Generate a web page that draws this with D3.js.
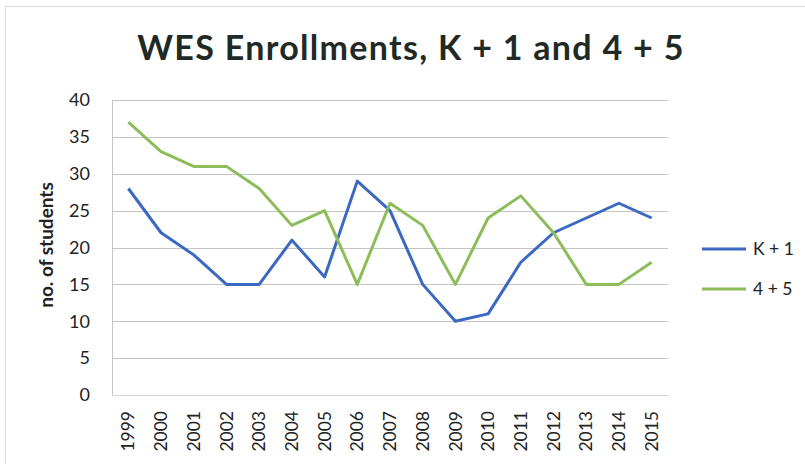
<!DOCTYPE html>
<html>
<head>
<meta charset="utf-8">
<script src="https://cdn.jsdelivr.net/npm/d3@7"></script>
<style>
  body { margin: 0; background: #fff; }
  svg { display: block; font-family: Lato, "Open Sans", sans-serif; }
</style>
</head>
<body>
<div id="chart"></div>
<script>
// data
var years = ["1999", "2000", "2001", "2002", "2003", "2004", "2005", "2006", "2007",
             "2008", "2009", "2010", "2011", "2012", "2013", "2014", "2015"];
var kOne = [28, 22, 19, 15, 15, 21, 16, 29, 25, 15, 10, 11, 18, 22, 24, 26, 24];
var fourFive = [37, 33, 31, 31, 28, 23, 25, 15, 26, 23, 15, 24, 27, 22, 15, 15, 18];
var yTicks = [0, 5, 10, 15, 20, 25, 30, 35, 40];
var seriesNames = ["K + 1", "4 + 5"];
var seriesColors = ["#3b68c0", "#8dbd5a"];

// dimensions
var W = 805, H = 464;
var margin = {top: 100, right: 137, bottom: 69, left: 112},
    width = W - margin.left - margin.right,
    height = H - margin.top - margin.bottom;

var svgRoot = d3.select("#chart")
  .append("svg")
    .attr("width", W)
    .attr("height", H);

// faint outer chart border
svgRoot.append("rect")
  .attr("x", 5.5).attr("y", 6.5)
  .attr("width", W - 4).attr("height", H)
  .attr("fill", "none")
  .attr("stroke", "#d9d9d9");

// title
svgRoot.append("text")
  .attr("x", 411)
  .attr("y", 60)
  .attr("text-anchor", "middle")
  .style("font-size", "34px")
  .style("font-weight", "bold")
  .style("letter-spacing", "1.3px")
  .style("fill", "#1f2a26")
  .text("WES Enrollments, K + 1 and 4 + 5");

var svg = svgRoot.append("g")
  .attr("transform", "translate(" + margin.left + "," + margin.top + ")");

// scales
var x = d3.scaleBand()
  .domain(years)
  .range([0, width]);

var y = d3.scaleLinear()
  .domain([0, 40])
  .range([height, 0]);

// gridlines
svg.append("g")
  .selectAll("line")
  .data(yTicks.filter(function(d) { return d > 0; }))
  .enter()
  .append("line")
    .attr("x1", 0)
    .attr("x2", width)
    .attr("y1", function(d) { return Math.round(y(d)) + 0.5; })
    .attr("y2", function(d) { return Math.round(y(d)) + 0.5; })
    .attr("stroke", "#c4c4c4")
    .attr("stroke-width", 1);

// Y axis
var yAxis = svg.append("g")
  .call(d3.axisLeft(y).tickValues(yTicks).tickSize(0).tickPadding(22));
yAxis.select(".domain").attr("stroke", "#c4c4c4");
yAxis.selectAll("text")
  .attr("fill", "#222")
  .style("font-family", "Lato, sans-serif")
  .style("font-size", "18px");

// X axis
var xAxis = svg.append("g")
  .attr("transform", "translate(0," + height + ")")
  .call(d3.axisBottom(x).tickSize(0));
xAxis.select(".domain").attr("stroke", "#d4d4d4");
xAxis.selectAll("text")
  .attr("fill", "#222")
  .style("font-family", "Lato, sans-serif")
  .style("font-size", "17.5px")
  .attr("transform", "rotate(-90)")
  .attr("x", -16)
  .attr("y", 0)
  .attr("dy", "0.35em")
  .style("text-anchor", "end");

// y axis title
svgRoot.append("text")
  .attr("transform", "translate(53," + (margin.top + 145) + ")rotate(-90)")
  .attr("text-anchor", "middle")
  .style("font-size", "19px")
  .style("font-weight", "bold")
  .style("fill", "#222")
  .text("no. of students");

// lines
var line = d3.line()
  .x(function(d, i) { return x(years[i]) + x.bandwidth() / 2; })
  .y(function(d) { return y(d); });

[kOne, fourFive].forEach(function(series, i) {
  svg.append("path")
    .datum(series)
    .attr("fill", "none")
    .attr("stroke", seriesColors[i])
    .attr("stroke-width", 3)
    .attr("stroke-linejoin", "round")
    .attr("d", line);
});

// legend
var legend = svgRoot.append("g")
  .attr("transform", "translate(702,249)");

seriesNames.forEach(function(name, i) {
  var g = legend.append("g").attr("transform", "translate(0," + (i * 40) + ")");
  g.append("line")
    .attr("x1", 0).attr("x2", 44)
    .attr("y1", 0).attr("y2", 0)
    .attr("stroke", seriesColors[i])
    .attr("stroke-width", 3);
  g.append("text")
    .attr("x", 51)
    .attr("y", 0)
    .attr("dy", "0.35em")
    .style("font-size", "17.5px")
    .style("fill", "#222")
    .text(name);
});
</script>
</body>
</html>
